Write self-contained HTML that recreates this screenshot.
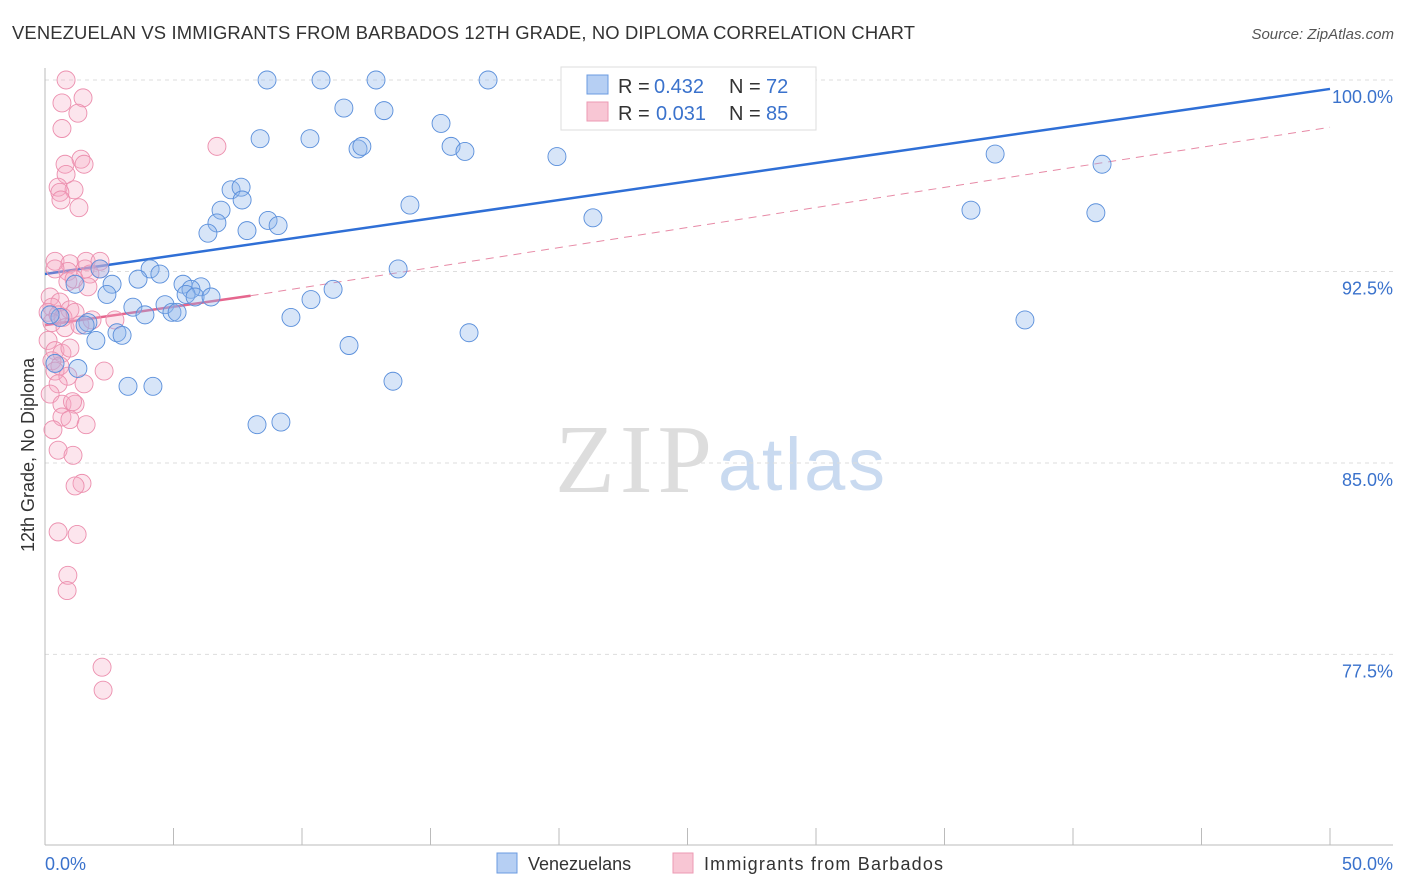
<!DOCTYPE html>
<html><head><meta charset="utf-8">
<style>
body{margin:0;background:#fff;font-family:"Liberation Sans",sans-serif;}
svg{display:block}
</style></head>
<body>
<svg id="chart" width="1406" height="892" xmlns="http://www.w3.org/2000/svg">
<text x="12" y="39" font-size="18.4" fill="#333" textLength="903">VENEZUELAN VS IMMIGRANTS FROM BARBADOS 12TH GRADE, NO DIPLOMA CORRELATION CHART</text>
<text x="1394" y="39" font-size="15" fill="#555" font-style="italic" text-anchor="end">Source: ZipAtlas.com</text>
<text x="555" y="492" font-size="98" fill="#ddd" font-family="Liberation Serif,serif" textLength="157">ZIP</text>
<text x="718" y="490" font-size="74" fill="#c9daf0" textLength="167">atlas</text>
<g id="grid"></g>
<g id="axes"></g>
<g id="lines"></g>
<g id="pts"></g>
<text transform="translate(34,455) rotate(-90)" font-size="18" fill="#333" text-anchor="middle">12th Grade, No Diploma</text>
<text x="45" y="870" font-size="18" fill="#3a72cc">0.0%</text>
<text x="1393" y="870" font-size="18" fill="#3a72cc" text-anchor="end">50.0%</text>
<g>
<rect x="561" y="67" width="255" height="63" fill="#fff" stroke="#ddd"/>
<rect x="587" y="75" width="21" height="19" fill="#b6cff3" stroke="#6b9be0"/>
<rect x="587" y="102" width="21" height="19" fill="#f8c6d4" stroke="#ec9ab3"/>
<text x="618" y="93" font-size="20" fill="#333">R =</text>
<text x="654" y="93" font-size="20" fill="#3a72cc">0.432</text>
<text x="729" y="93" font-size="20" fill="#333">N =</text>
<text x="766" y="93" font-size="20" fill="#3a72cc">72</text>
<text x="618" y="120" font-size="20" fill="#333">R =</text>
<text x="656" y="120" font-size="20" fill="#3a72cc">0.031</text>
<text x="729" y="120" font-size="20" fill="#333">N =</text>
<text x="766" y="120" font-size="20" fill="#3a72cc">85</text>
</g>
<g>
<rect x="497" y="853" width="20" height="20" fill="#b6cff3" stroke="#6b9be0"/>
<text x="528" y="870" font-size="18" fill="#333">Venezuelans</text>
<rect x="673" y="853" width="20" height="20" fill="#f8c6d4" stroke="#ec9ab3"/>
<text x="704" y="870" font-size="18" fill="#333" textLength="239">Immigrants from Barbados</text>
</g>
</svg>
<script>
const yTicks=[100,92.5,85,77.5];
const yTickLabels=["100.0%","92.5%","85.0%","77.5%"];
const blueX=[8.64,10.74,12.88,17.24,11.63,13.19,15.41,8.37,10.31,12.18,12.33,15.8,16.34,19.92,36.97,41.13,7.24,7.63,14.2,7.67,6.85,6.69,8.68,9.07,6.34,7.86,21.32,36.03,40.89,2.14,4.09,4.47,13.74,3.62,2.61,5.37,6.07,1.17,2.41,5.68,5.49,5.84,6.46,10.35,11.21,3.42,4.67,4.94,3.89,5.14,9.57,38.13,0.58,1.67,1.56,2.8,3.0,1.98,16.5,11.83,0.39,1.28,3.23,4.2,13.54,8.25,9.18,0.2];
const blueY=[100,100,100,100,98.9,98.8,98.3,97.7,97.7,97.3,97.4,97.4,97.2,97.0,97.1,96.7,95.7,95.8,95.1,95.3,94.9,94.4,94.5,94.3,94.0,94.1,94.6,94.9,94.8,92.6,92.6,92.4,92.6,92.2,92.0,92.0,91.9,92.0,91.6,91.8,91.6,91.5,91.5,91.4,91.8,91.1,91.2,90.9,90.8,90.9,90.7,90.6,90.7,90.5,90.4,90.1,90.0,89.8,90.1,89.6,88.9,88.7,88.0,88.0,88.2,86.5,86.6,90.8];
const pinkX=[0.82,1.48,0.66,1.28,0.66,6.69,1.4,1.52,0.78,0.82,0.51,1.13,0.58,0.62,1.32,0.39,0.97,1.6,2.14,1.56,1.75,0.89,0.39,2.14,0.89,1.67,0.2,0.58,0.27,0.12,0.51,0.97,0.7,1.17,0.27,0.78,1.36,1.83,2.72,0.12,0.39,0.66,0.97,0.27,0.58,0.39,0.89,0.51,1.52,2.3,0.2,0.66,1.17,0.66,0.97,1.6,0.31,0.51,1.09,1.44,1.17,0.51,1.25,0.89,0.86,2.22,2.26,1.13,1.07];
const pinkY=[100,99.3,99.1,98.7,98.1,97.4,96.9,96.7,96.7,96.3,95.8,95.7,95.6,95.3,95.0,92.9,92.8,92.9,92.9,92.6,92.4,92.5,92.6,92.6,92.1,91.9,91.5,91.3,91.1,90.9,90.8,91.0,90.7,90.9,90.5,90.3,90.4,90.6,90.6,89.8,89.4,89.3,89.5,89.0,88.8,88.6,88.4,88.1,88.1,88.6,87.7,87.3,87.3,86.8,86.7,86.5,86.3,85.5,85.3,84.2,84.1,82.3,82.2,80.6,80.0,77.0,76.1,92.2,87.4];
const NS="http://www.w3.org/2000/svg";
const X0=45,X1=1330,Y0=80,YPX=25.53;
function sx(v){return X0+(X1-X0)*v/50;}
function sy(v){return Y0+(100-v)*YPX;}
function mk(tag,attrs,parent){const e=document.createElementNS(NS,tag);for(const k in attrs)e.setAttribute(k,attrs[k]);document.getElementById(parent).appendChild(e);return e;}
yTicks.forEach((t,i)=>{
 const g=mk('line',{x1:45,x2:1393,y1:sy(t),y2:sy(t),stroke:'#ddd','stroke-dasharray':'4,4'},'grid');
 
 
 const l=mk('text',{x:1393,y:sy(t)+23,'font-size':18,fill:'#3a72cc','text-anchor':'end'},'grid');
 l.textContent=yTickLabels[i];
 
 
});
const ax=mk('line',{x1:45,x2:45,y1:68,y2:845,stroke:'#bbb'},'axes');


const bx=mk('line',{x1:45,x2:1393,y1:845,y2:845,stroke:'#bbb'},'axes');


for(let i=0;i<=10;i++){
 const t=mk('line',{x1:sx(i*5),x2:sx(i*5),y1:828,y2:845,stroke:'#bbb'},'axes');
 
 
}
const bl=mk('line',{x1:sx(0),y1:sy(92.4),x2:sx(50),y2:sy(99.65),stroke:'#2f6fd6','stroke-width':2.5},'lines');


const pd=mk('line',{x1:sx(8),y1:sy(91.55),x2:sx(50),y2:sy(98.15),stroke:'#e78aa6','stroke-width':1,'stroke-dasharray':'8,6'},'lines');


const pl=mk('line',{x1:sx(0),y1:sy(90.4),x2:sx(8),y2:sy(91.55),stroke:'#e5668e','stroke-width':2.5},'lines');


pinkX.forEach((v,i)=>{
 const c=mk('circle',{cx:sx(v),cy:sy(pinkY[i]),r:9,fill:'rgba(246,170,194,0.3)',stroke:'#ec8fae','stroke-width':0.9},'pts');
 
 
});
blueX.forEach((v,i)=>{
 const c=mk('circle',{cx:sx(v),cy:sy(blueY[i]),r:9,fill:'rgba(140,180,235,0.35)',stroke:'#5a8fdb','stroke-width':0.9},'pts');
 
 
});
</script>
</body></html>
